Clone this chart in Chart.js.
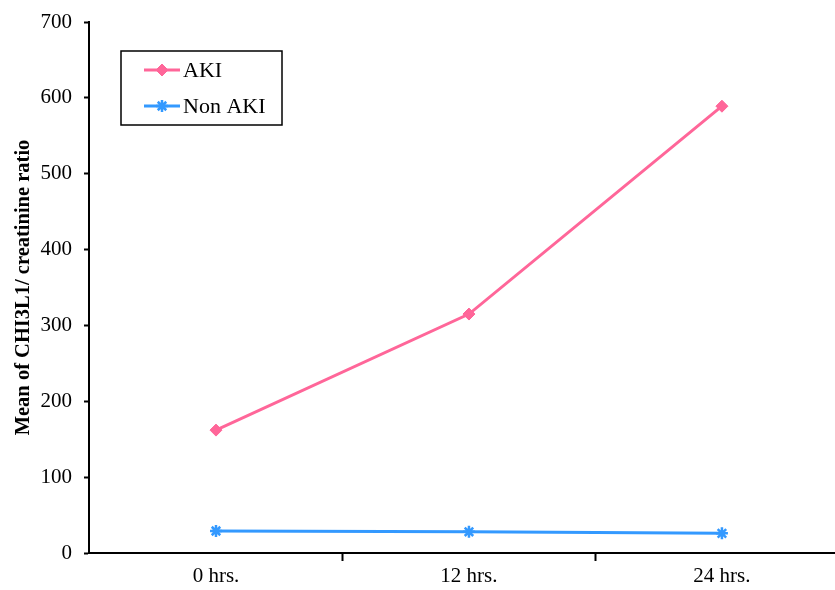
<!DOCTYPE html>
<html>
<head>
<meta charset="utf-8">
<script src="https://cdn.jsdelivr.net/npm/chart.js@4"></script>
<style>
  html, body { margin: 0; padding: 0; background: #fff; }
</style>
</head>
<body>
<canvas id="chart" width="835" height="590"></canvas>
<script>
const categories = ['0 hrs.', '12 hrs.', '24 hrs.'];
const akiValues = [162, 315, 589];
const nonAkiValues = [29, 28, 26];
const yTicks = [0, 100, 200, 300, 400, 500, 600, 700];

const FONT = '"Liberation Serif", "Times New Roman", serif';

// legend drawn inside the plot area, boxed like the original
const boxLegend = {
  id: 'boxLegend',
  afterDraw(chart) {
    const c = chart.ctx;
    c.save();
    c.strokeStyle = '#000';
    c.lineWidth = 1.5;
    c.strokeRect(121, 51, 161, 74);
    const rows = [70, 106];
    chart.data.datasets.forEach((ds, i) => {
      const y = rows[i];
      c.strokeStyle = ds.borderColor;
      c.fillStyle = ds.backgroundColor;
      c.lineWidth = 3;
      c.beginPath();
      c.moveTo(144, y);
      c.lineTo(180, y);
      c.stroke();
      c.lineWidth = ds.pointBorderWidth;
      Chart.helpers.drawPoint(c, {
        pointStyle: ds.pointStyle, radius: ds.pointRadius, borderWidth: ds.pointBorderWidth
      }, 162, y);
      c.fillStyle = '#000';
      c.font = '22px ' + FONT;
      c.textBaseline = 'middle';
      c.fillText(ds.label, 183, y + 1);
    });
    c.restore();
  }
};

new Chart(document.getElementById('chart'), {
  type: 'line',
  data: {
    datasets: [
      {
        label: 'AKI',
        data: akiValues.map((v, i) => ({ x: i, y: v })),
        borderColor: '#FF6699',
        backgroundColor: '#FF6699',
        borderWidth: 3,
        pointStyle: 'rectRot',
        pointRadius: 6,
        pointBorderWidth: 1
      },
      {
        label: 'Non AKI',
        data: nonAkiValues.map((v, i) => ({ x: i, y: v })),
        borderColor: '#3399FF',
        backgroundColor: '#3399FF',
        borderWidth: 3,
        pointStyle: 'star',
        pointRadius: 6,
        pointBorderWidth: 2.5
      }
    ]
  },
  options: {
    responsive: false,
    animation: false,
    layout: { autoPadding: false, padding: { top: 22, right: 0, left: 0, bottom: 0 } },
    plugins: { legend: { display: false }, tooltip: { enabled: false } },
    scales: {
      x: {
        type: 'linear',
        min: -0.502,
        max: 2.447,
        afterFit(s) { s.height = 37; s.paddingLeft = 0; s.paddingRight = 0; },
        afterBuildTicks(s) {
          s.ticks = [-0.5, 0, 0.5, 1, 1.5, 2].map(v => ({ value: v }));
        },
        ticks: {
          includeBounds: false,
          autoSkip: false,
          maxRotation: 0,
          padding: 3,
          color: '#000',
          font: { family: FONT, size: 21 },
          callback: v => Number.isInteger(v) ? categories[v] : ''
        },
        grid: {
          drawOnChartArea: false,
          tickLength: 8,
          tickWidth: 2,
          tickColor: ctx => (ctx.tick && (ctx.tick.value === 0.5 || ctx.tick.value === 1.5)) ? '#000' : 'rgba(0,0,0,0)'
        },
        border: { color: '#000', width: 2 }
      },
      y: {
        min: 0,
        max: 700,
        afterFit(s) { s.width = 89; s.paddingTop = 0; s.paddingBottom = 0; },
        afterBuildTicks(s) { s.ticks = yTicks.map(v => ({ value: v })); },
        ticks: {
          padding: 12,
          color: '#000',
          font: { family: FONT, size: 21 }
        },
        grid: {
          drawOnChartArea: false,
          tickLength: 5,
          tickWidth: 2,
          tickColor: '#000'
        },
        border: { color: '#000', width: 2 },
        title: {
          display: true,
          text: 'Mean of CHI3L1/ creatinine ratio',
          color: '#000',
          padding: { top: 11, bottom: 0 },
          font: { family: FONT, size: 20.5, weight: 'bold' }
        }
      }
    }
  },
  plugins: [boxLegend]
});
</script>
</body>
</html>
